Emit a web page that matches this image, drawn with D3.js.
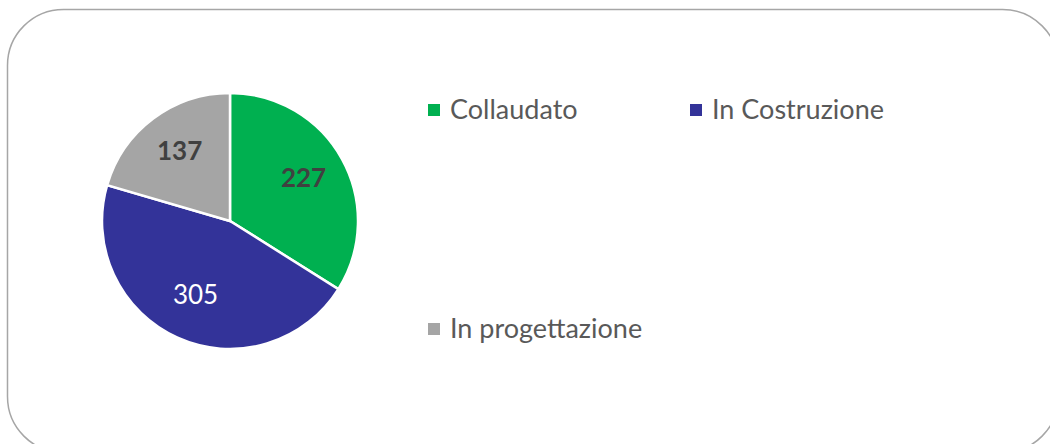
<!DOCTYPE html>
<html>
<head>
<meta charset="utf-8">
<script src="https://cdn.jsdelivr.net/npm/d3@7"></script>
<style>
  body { margin: 0; background: #fff; }
  text { font-family: Lato, "Open Sans", sans-serif; }
</style>
</head>
<body>
<svg id="chart" width="1050" height="444"></svg>
<script>
var categories = ["Collaudato", "In Costruzione", "In progettazione"];
var values = [227, 305, 137];
var colors = ["#00B050", "#333399", "#A5A5A5"];
var labelColors = ["#404040", "#ffffff", "#404040"];
var labelWeights = ["bold", "normal", "bold"];

var svg = d3.select("#chart");

// outer frame, the right and bottom edges run off the page
svg.append("rect")
  .attr("x", 7.5)
  .attr("y", 9.5)
  .attr("width", 1051)
  .attr("height", 443)
  .attr("rx", 56)
  .attr("ry", 56)
  .style("fill", "none")
  .style("stroke", "#A6A6A6")
  .style("stroke-width", 1.5);

var cx = 230, cy = 221, radius = 128;

var pie = d3.pie().sort(null).value(function(d) { return d; });
var arcs = pie(values);

var arc = d3.arc().innerRadius(0).outerRadius(radius);
var labelArc = d3.arc().innerRadius(84).outerRadius(84);

var g = svg.append("g")
  .attr("transform", "translate(" + cx + "," + cy + ")");

g.selectAll("path")
  .data(arcs)
  .enter()
  .append("path")
  .attr("d", arc)
  .style("fill", function(d, i) { return colors[i]; })
  .style("stroke", "#fff")
  .style("stroke-width", 2.5);

g.selectAll("text")
  .data(arcs)
  .enter()
  .append("text")
  .attr("transform", function(d) { return "translate(" + labelArc.centroid(d) + ")"; })
  .attr("dy", "0.25em")
  .style("text-anchor", "middle")
  .style("font-size", "26px")
  .style("font-weight", function(d, i) { return labelWeights[i]; })
  .style("fill", function(d, i) { return labelColors[i]; })
  .text(function(d) { return d.data; });

// legend
var legendPos = [
  { x: 428, y: 110 },
  { x: 690, y: 110 },
  { x: 428, y: 329 }
];

var legend = svg.selectAll(".legend")
  .data(categories)
  .enter()
  .append("g")
  .attr("class", "legend")
  .attr("transform", function(d, i) {
    return "translate(" + legendPos[i].x + "," + legendPos[i].y + ")";
  });

legend.append("rect")
  .attr("x", 0)
  .attr("y", -6)
  .attr("width", 12)
  .attr("height", 12)
  .style("fill", function(d, i) { return colors[i]; });

legend.append("text")
  .attr("x", 22)
  .attr("dy", "0.35em")
  .style("font-size", "27px")
  .style("fill", "#595959")
  .text(function(d) { return d; });
</script>
</body>
</html>
